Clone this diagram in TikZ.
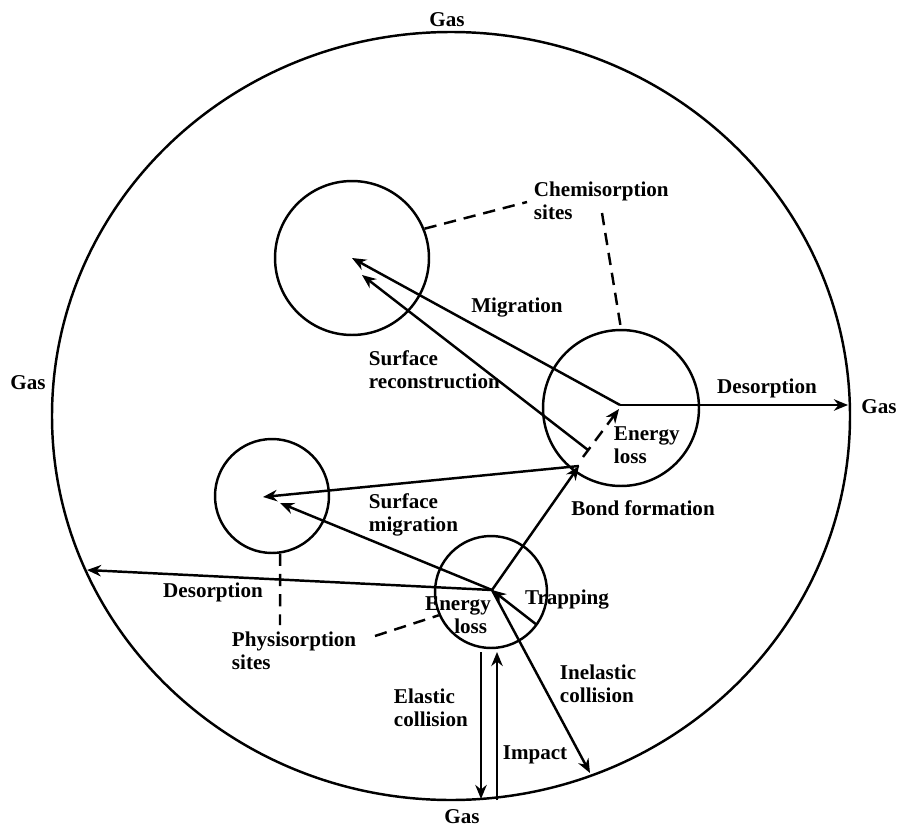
\documentclass[tikz,border=0pt]{standalone}
\usepackage{fontspec}
\setmainfont{Liberation Serif}
\usetikzlibrary{arrows.meta}

\begin{document}
\begin{tikzpicture}[x=0.02cm,y=-0.02cm,line width=1.4pt,
  site/.style={draw,circle,inner sep=0pt,line width=1.4pt},
  flow/.style={-{Stealth[length=8pt,width=6.5pt]}},
  lead/.style={dash pattern=on 7pt off 4.5pt},
  lbl/.style={font=\bfseries\fontsize{12}{13}\selectfont,inner sep=1pt},
  lbll/.style={lbl,align=left,anchor=west}]
\useasboundingbox (0,0) rectangle (899,828);
\draw (451,416) ellipse [x radius=399,y radius=384];

\node[site,minimum size=3.08cm] (chemA) at (352,258) {};
\node[site,minimum size=3.12cm] (chemB) at (621,408) {};
\node[site,minimum size=2.28cm] (phys) at (272,496) {};
\node[site,minimum size=2.24cm] (trap) at (491,592) {};

\coordinate (hubB) at (620,405);
\coordinate (hubT) at (492,590);
\coordinate (reconA) at (588,450);
\coordinate (reconB) at (362,275);
\coordinate (lossA) at (583,457);
\coordinate (lossB) at (619,409);
\coordinate (bondtip) at (579,466);
\coordinate (physA) at (263,497);
\coordinate (physB) at (280,503);
\coordinate (outL) at (87,570);
\coordinate (outR) at (848,405);
\coordinate (trapin) at (537,625);
\coordinate (outI) at (590,773);
\coordinate (elasA) at (481,652);
\coordinate (elasB) at (481,799);
\coordinate (impA) at (497,800);
\coordinate (impB) at (497,652);

\node[lbl] (gasT) at (447,20) {Gas};
\node[lbl] (gasL) at (28,383) {Gas};
\node[lbl] (gasR) at (879,407) {Gas};
\node[lbl] (gasB) at (462,817) {Gas};
\node[lbll] (chemlbl) at (531,201) {Chemisorption\\sites};
\node[lbl] (migr) at (517,308) {Migration};
\node[lbll] (recon) at (366,370) {Surface\\reconstruction};
\node[lbl] (desR) at (767,388) {Desorption};
\node[lbll] (elossB) at (611,445) {Energy\\loss};
\node[lbl] (bond) at (643,508) {Bond formation};
\node[lbll] (smig) at (366,515) {Surface\\migration};
\node[lbl] (desL) at (213,592) {Desorption};
\node[lbl,align=center] (elossT) at (458,615) {Energy\\\hspace*{1.2em}loss};
\node[lbl] (trapl) at (567,600) {Trapping};
\node[lbll] (physlbl) at (229,651) {Physisorption\\sites};
\node[lbll] (inel) at (557,684) {Inelastic\\collision};
\node[lbll] (elas) at (391,708) {Elastic\\collision};
\node[lbl] (imp) at (535,755) {Impact};

\draw[flow] (hubB) -- (chemA.center);
\draw[flow] (reconA) -- (reconB);
\draw[flow] (hubB) -- (outR);
\draw[flow,lead] (lossA) -- (lossB);
\draw[flow] (hubT) -- (bondtip);
\draw[flow] (bondtip) -- (physA);
\draw[flow] (hubT) -- (physB);
\draw[flow] (hubT) -- (outL);
\draw[flow] (trapin) -- (hubT);
\draw[flow] (hubT) -- (outI);
\draw[flow] (elasA) -- (elasB);
\draw[flow] (impA) -- (impB);

\draw[lead] (chemA.22) -- (527,202);
\draw[lead] (602,213) -- (chemB.north);
\draw[lead] (phys.-82) -- (280,625);
\draw[lead] (375,636) -- (trap.204);
\end{tikzpicture}
\end{document}
